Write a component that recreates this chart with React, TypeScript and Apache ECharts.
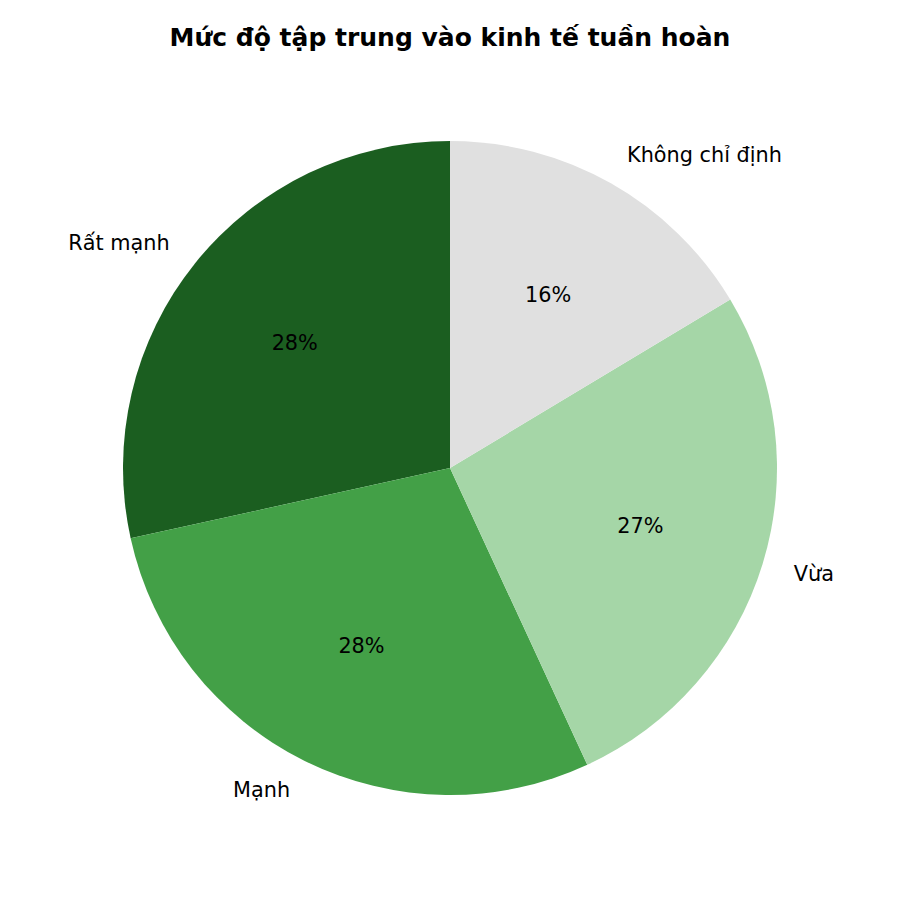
import React, { useEffect, useRef } from "react";
import * as echarts from "echarts";

const TITLE = "Mức độ tập trung vào kinh tế tuần hoàn";
const categories = ["Rất mạnh", "Mạnh", "Vừa", "Không chỉ định"];
const values = [33, 33, 31, 19];
const colors = ["#1b5e20", "#43a047", "#a5d6a7", "#e0e0e0"];

const FONT = "DejaVu Sans";

export default function App() {
  const ref = useRef<HTMLDivElement>(null);
  useEffect(() => {
    if (!ref.current) return;
    const chart = echarts.init(ref.current, null, { renderer: "svg" });
    const total = values.reduce((a, b) => a + b, 0);
    const cx = 450;
    const cy = 468;
    const R = 327;
    const data = categories.map((name, i) => ({
      name,
      value: values[i],
      itemStyle: { color: colors[i] },
    }));
    chart.setOption({
      animation: false,
      backgroundColor: "#ffffff",
      title: {
        text: TITLE,
        left: "center",
        top: 20,
        textStyle: {
          fontFamily: FONT,
          fontSize: 25,
          fontWeight: "bold",
          color: "#000000",
        },
      },
      series: [
        {
          type: "pie",
          center: [cx, cy],
          radius: R,
          startAngle: 90,
          clockwise: false,
          avoidLabelOverlap: false,
          silent: true,
          data,
          label: {
            show: true,
            position: "outside",
            fontFamily: FONT,
            fontSize: 20.8,
            color: "#000000",
            distanceToLabelLine: 0,
            alignTo: "none",
          },
          labelLine: { show: false, length: R * 0.1, length2: 0 },
          emphasis: { disabled: true },
        },
        {
          type: "pie",
          center: [cx, cy],
          radius: [R * 0.2, R],
          startAngle: 90,
          clockwise: false,
          avoidLabelOverlap: false,
          silent: true,
          z: 5,
          data: categories.map((name, i) => ({
            name,
            value: values[i],
            itemStyle: { color: "rgba(0,0,0,0)" },
          })),
          label: {
            show: true,
            position: "inside",
            fontFamily: FONT,
            fontSize: 20.8,
            color: "#000000",
            textBorderWidth: 0,
            formatter: (p: any) => Math.round((p.value / total) * 100) + "%",
          },
          labelLine: { show: false },
          emphasis: { disabled: true },
        },
      ],
    });
    return () => chart.dispose();
  }, []);
  return (
    <div
      ref={ref}
      style={{ position: "fixed", left: 0, top: 0, width: 900, height: 900 }}
    />
  );
}
